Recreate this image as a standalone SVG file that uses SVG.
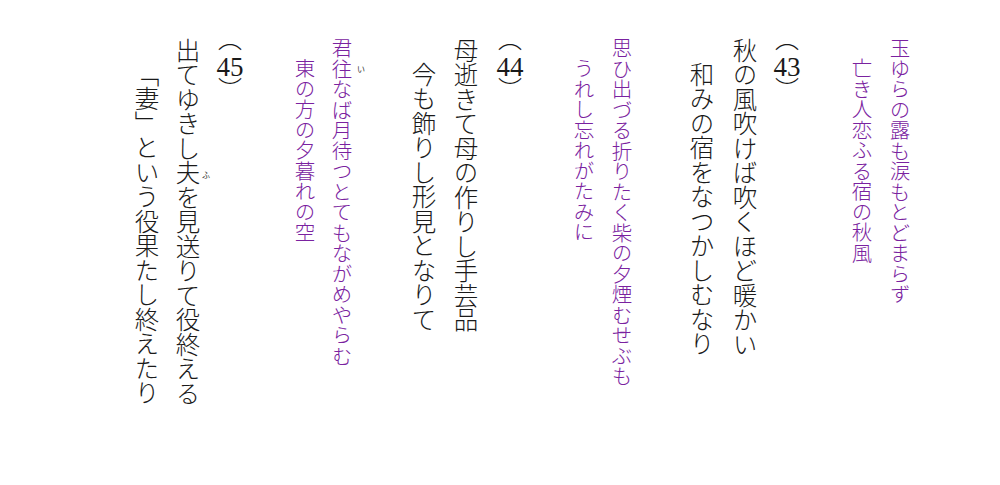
<svg xmlns="http://www.w3.org/2000/svg" width="1000" height="485" viewBox="0 0 1000 485">
<style>
.v{writing-mode:vertical-rl;font-family:"Noto Sans CJK JP","Noto Sans CJK SC",sans-serif;}
.p{fill:#7a22a0;font-size:20.5px;font-weight:300;}
.b{fill:#1a1a1a;font-size:24.5px;font-weight:300;}
.num{font-family:"Liberation Serif",serif;font-size:27px;fill:#1a1a1a;text-anchor:middle;}
.par{fill:#1a1a1a;font-size:24px;font-weight:300;}
.ruby{font-family:"Noto Sans CJK JP",sans-serif;font-size:8px;fill:#333;text-anchor:middle;}
</style>
<rect width="1000" height="485" fill="#fff"/>
<g id="tanka1">
<text class="v p" x="900" y="38">玉ゆらの露も涙もとどまらず</text>
<text class="v p" x="862" y="58">亡き人恋ふる宿の秋風</text>
</g>
<g id="num43">
<text class="v par" x="787" y="27">（</text>
<text class="num" x="787" y="76">43</text>
<text class="v par" x="787" y="77">）</text>
</g>
<g id="poem43">
<text class="v b" x="745" y="38">秋の風吹けば吹くほど暖かい</text>
<text class="v b" x="702" y="62">和みの宿をなつかしむなり</text>
</g>
<g id="tanka2">
<text class="v p" x="622" y="38">思ひ出づる折りたく柴の夕煙むせぶも</text>
<text class="v p" x="584" y="58">うれし忘れがたみに</text>
</g>
<g id="num44">
<text class="v par" x="510" y="27">（</text>
<text class="num" x="510" y="76">44</text>
<text class="v par" x="510" y="77">）</text>
</g>
<g id="poem44">
<text class="v b" x="466" y="38">母逝きて母の作りし手芸品</text>
<text class="v b" x="424" y="62">今も飾りし形見となりて</text>
</g>
<g id="tanka3">
<text class="v p" x="342" y="38">君往なば月待つとてもながめやらむ</text>
<text class="ruby" x="361" y="72">い</text>
<text class="v p" x="305" y="58">東の方の夕暮れの空</text>
</g>
<g id="num45">
<text class="v par" x="230" y="27">（</text>
<text class="num" x="230" y="76">45</text>
<text class="v par" x="230" y="77">）</text>
</g>
<g id="poem45">
<text class="v b" x="188" y="38">出てゆきし夫を見送りて役終える</text>
<text class="ruby" x="206" y="178">ふ</text>
<text class="v b" x="147" y="62">「妻」という役果たし終えたり</text>
</g>
<g id="connectors"></g>
</svg>
